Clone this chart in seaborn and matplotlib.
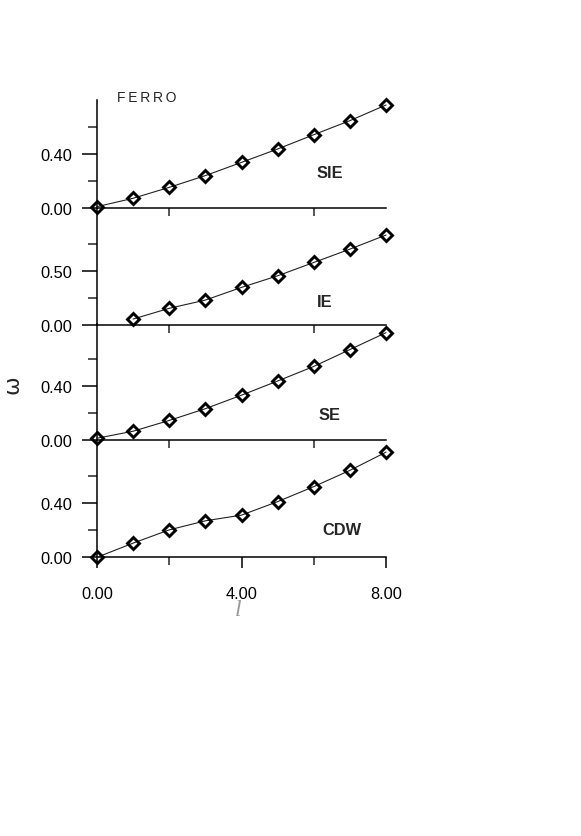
# FERRO: omega vs l for four phases, stacked panels

import numpy as np
import pandas as pd
import matplotlib
matplotlib.use('Agg')
import matplotlib.pyplot as plt
import seaborn as sns
from matplotlib.ticker import FuncFormatter, FixedLocator

l_vals = [0, 1, 2, 3, 4, 5, 6, 7, 8]
l_ie = [1, 2, 3, 4, 5, 6, 7, 8]

sie = [0.010, 0.072, 0.153, 0.240, 0.338, 0.437, 0.543, 0.647, 0.763]
ie = [0.055, 0.154, 0.230, 0.347, 0.454, 0.577, 0.700, 0.830]
se = [0.013, 0.065, 0.145, 0.232, 0.332, 0.437, 0.545, 0.670, 0.795]
cdw = [0.000, 0.105, 0.203, 0.270, 0.312, 0.412, 0.523, 0.643, 0.778]

panel_names = ['SIE', 'IE', 'SE', 'CDW']
panel_x = [l_vals, l_ie, l_vals, l_vals]
panel_y = [sie, ie, se, cdw]
y_major = [[0.0, 0.4], [0.0, 0.5], [0.0, 0.4], [0.0, 0.4]]
y_minor = [[0.2, 0.6], [0.25, 0.75], [0.2, 0.6], [0.2, 0.6]]
y_top = [0.863, 1.075, 0.863, 0.862]
x_labels = [0.0, 4.0, 8.0]

sns.set_style('ticks')
plt.rcParams['font.family'] = ['Liberation Sans', 'DejaVu Sans']

fmt = FuncFormatter(lambda v, p: f'{v:.2f}')

fig = plt.figure(figsize=(5.81, 8.37), dpi=100)

left = 97 / 581
width = (386 - 97) / 581
height = 116.5 / 837
bottoms_px = [209, 326, 441, 558.3]
label_pos = [(6.44, 0.26), (6.3, 0.22), (6.45, 0.19), (6.79, 0.206)]

for i, name in enumerate(panel_names):
    ax = fig.add_axes([left, 1 - bottoms_px[i] / 837, width, height])
    ax.set_facecolor('none')
    df = pd.DataFrame({'l': panel_x[i], 'w': panel_y[i]})
    sns.lineplot(data=df, x='l', y='w', ax=ax, color='#222222', linewidth=0.8,
                 marker='D', markersize=6.4, markerfacecolor='none',
                 markeredgecolor='black', markeredgewidth=2.1, clip_on=False,
                 zorder=5)
    ax.set_xlim(0, 8)
    ax.set_ylim(0, y_top[i])
    for s in ['top', 'right']:
        ax.spines[s].set_visible(False)
    for s in ['left', 'bottom']:
        ax.spines[s].set_linewidth(1.1)
        ax.spines[s].set_color('black')
    if i == 0:
        ax.spines['left'].set_bounds(0, 0.8)
    ax.yaxis.set_major_locator(FixedLocator(y_major[i]))
    ax.yaxis.set_minor_locator(FixedLocator(y_minor[i]))
    ax.yaxis.set_major_formatter(fmt)
    ax.tick_params(axis='y', which='major', direction='out', length=10.5,
                   width=1.1, labelsize=11.8, pad=7, colors='black')
    ax.tick_params(axis='y', which='minor', direction='out', length=6.5,
                   width=1.1)
    if i < 3:
        ax.xaxis.set_major_locator(FixedLocator([2, 6]))
        ax.set_xticklabels([])
        ax.tick_params(axis='x', which='major', direction='out', length=5.5,
                       width=1.1)
    else:
        ax.xaxis.set_major_locator(FixedLocator(x_labels))
        ax.xaxis.set_minor_locator(FixedLocator([2, 6]))
        ax.xaxis.set_major_formatter(fmt)
        ax.tick_params(axis='x', which='major', direction='out', length=8,
                       width=1.1, labelsize=11.8, pad=13, colors='black')
        ax.tick_params(axis='x', which='minor', direction='out', length=6,
                       width=1.1)
    ax.set_xlabel('')
    ax.set_ylabel('')
    lx, ly = label_pos[i]
    ax.text(lx, ly, name, ha='center', va='center', fontsize=11.8,
            fontweight='bold')

fig.text(117 / 581, 1 - 98 / 837, '\u2009'.join('FERRO'), ha='left',
         va='center', fontsize=10)
fig.text(12 / 581, 1 - 385 / 837, 'ω', rotation=90, ha='center',
         va='center', fontsize=16, family=['DejaVu Sans'])
fig.text(238 / 581, 1 - 611 / 837, 'l', ha='center', va='center',
         fontsize=17, style='italic', color='#999999',
         family=['Liberation Serif', 'DejaVu Serif'])

fig.savefig('out.png', dpi=100)
